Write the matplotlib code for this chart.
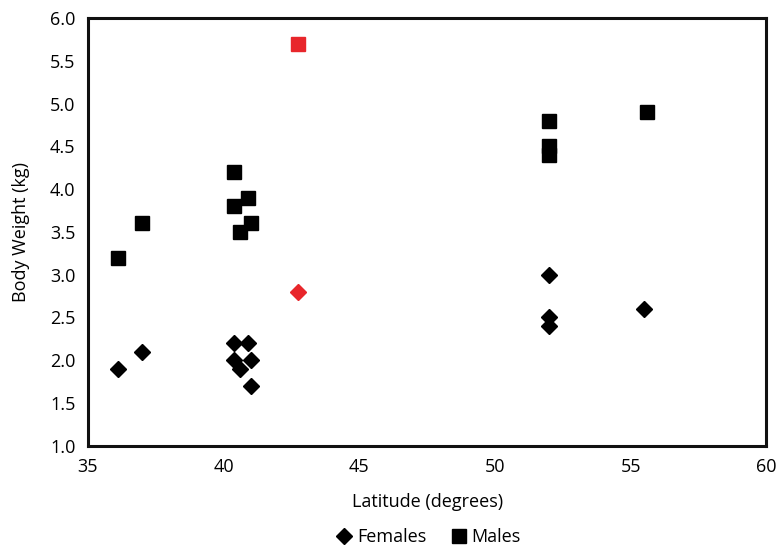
import matplotlib
matplotlib.use("Agg")
import matplotlib.pyplot as plt

plt.rcParams['font.family'] = ['Open Sans', 'DejaVu Sans']

# Females (diamonds)
fem_lat = [36.1, 37.0, 40.4, 40.9, 40.4, 40.6, 41.0, 41.0, 52.0, 52.0, 52.0, 55.5]
fem_wt = [1.9, 2.1, 2.2, 2.2, 2.0, 1.9, 2.0, 1.7, 3.0, 2.5, 2.4, 2.6]
# Males (squares)
male_lat = [36.1, 37.0, 40.4, 40.4, 40.9, 40.6, 41.0, 52.0, 52.0, 52.0, 55.6]
male_wt = [3.2, 3.6, 4.2, 3.8, 3.9, 3.5, 3.6, 4.8, 4.5, 4.4, 4.9]
# highlighted points (red)
red_lat = 42.75
red_fem = 2.8
red_male = 5.7

fig = plt.figure(figsize=(7.78, 5.47), dpi=100)
ax = fig.add_axes([0.113, 0.185, 0.872, 0.782])

ax.plot(fem_lat, fem_wt, 'D', color='black', markersize=8, label='Females', linestyle='none')
ax.plot(male_lat, male_wt, 's', color='black', markersize=9.5, label='Males', linestyle='none')
ax.plot([red_lat], [red_fem], 'D', color='#e8262b', markersize=8, linestyle='none')
ax.plot([red_lat], [red_male], 's', color='#e8262b', markersize=9.5, linestyle='none')

ax.set_xlim(35, 60)
ax.set_ylim(1.0, 6.0)
ax.set_xticks([35, 40, 45, 50, 55, 60])
ax.set_yticks([1.0, 1.5, 2.0, 2.5, 3.0, 3.5, 4.0, 4.5, 5.0, 5.5, 6.0])
ax.set_yticklabels(['%.1f' % v for v in ax.get_yticks()])
ax.tick_params(length=0, labelsize=13, pad=9)
for s in ax.spines.values():
    s.set_linewidth(2.2)
    s.set_color('#111111')

ax.set_xlabel('Latitude (degrees)', fontsize=13, labelpad=12)
ax.set_ylabel('Body Weight (kg)', fontsize=13, labelpad=14)

ax.legend(loc='upper center', bbox_to_anchor=(0.5, -0.155), ncol=2, frameon=False,
          fontsize=13, handletextpad=0.1, columnspacing=1.2, handlelength=1.2)

fig.savefig('out.png', dpi=100)
